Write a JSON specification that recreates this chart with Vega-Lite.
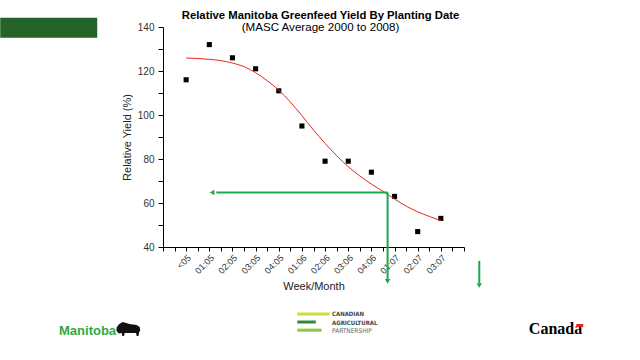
{
  "$schema": "https://vega.github.io/schema/vega-lite/v6.json",
  "width": 301,
  "height": 220,
  "autosize": {"type": "none"},
  "padding": {"left": 163, "top": 27, "right": 176, "bottom": 113},
  "background": "white",
  "config": {"font": "Liberation Sans", "view": {"stroke": null}},
  "title": {
    "text": "Relative Manitoba Greenfeed Yield By Planting Date",
    "subtitle": "(MASC Average 2000 to 2008)",
    "anchor": "middle",
    "frame": "group",
    "dx": 7,
    "offset": -16,
    "font": "Liberation Sans",
    "fontSize": 11.3,
    "fontWeight": "bold",
    "color": "#000000",
    "subtitleFont": "Liberation Sans",
    "subtitleFontSize": 11.6,
    "subtitleColor": "#000000",
    "subtitlePadding": 1
  },
  "encoding": {
    "x": {
      "field": "idx", "type": "quantitative",
      "scale": {"domain": [-1, 12], "nice": false, "zero": false},
      "axis": {
        "title": "Week/Month",
        "values": [-1, -0.5, 0, 0.5, 1, 1.5, 2, 2.5, 3, 3.5, 4, 4.5, 5, 5.5, 6, 6.5, 7, 7.5, 8, 8.5, 9, 9.5, 10, 10.5, 11, 11.5, 12],
        "labelExpr": "(datum.value >= 0 && datum.value <= 11 && datum.value == floor(datum.value)) ? ['<05','01:05','02:05','03:05','04:05','01:06','02:06','03:06','04:06','01:07','02:07','03:07'][datum.value] : ''",
        "labelAngle": -45,
        "labelOverlap": false,
        "labelFlush": false,
        "labelFontSize": 9,
        "labelColor": "#333333",
        "labelPadding": 2,
        "tickSize": 4,
        "tickColor": "#000000",
        "domainColor": "#000000",
        "grid": false,
        "titleFontSize": 11,
        "titleFontWeight": "normal",
        "titleColor": "#222222",
        "titlePadding": 5
      }
    },
    "y": {
      "field": "yield", "type": "quantitative",
      "scale": {"domain": [40, 140], "nice": false, "zero": false},
      "axis": {
        "title": "Relative Yield (%)",
        "values": [40, 50, 60, 70, 80, 90, 100, 110, 120, 130, 140],
        "labelExpr": "datum.value % 20 === 0 ? datum.label : ''",
        "labelOverlap": false,
        "labelFontSize": 10,
        "labelColor": "#333333",
        "labelPadding": 4,
        "tickSize": 5,
        "tickColor": "#000000",
        "domainColor": "#000000",
        "grid": false,
        "titleFontSize": 11,
        "titleFontWeight": "normal",
        "titleColor": "#222222",
        "titlePadding": 5
      }
    }
  },
  "layer": [
    {
      "data": {"values": [{"yield": 60}, {"yield": 80}, {"yield": 100}, {"yield": 120}]},
      "mark": {"type": "rule", "color": "#aed6ae", "strokeWidth": 1},
      "encoding": {
        "x": {"datum": -1, "type": "quantitative"},
        "x2": {"datum": 12}
      }
    },
    {
      "data": {"values": [
        {"week": "<05", "idx": 0, "yield": 116},
        {"week": "01:05", "idx": 1, "yield": 132},
        {"week": "02:05", "idx": 2, "yield": 126},
        {"week": "03:05", "idx": 3, "yield": 121},
        {"week": "04:05", "idx": 4, "yield": 111},
        {"week": "01:06", "idx": 5, "yield": 95},
        {"week": "02:06", "idx": 6, "yield": 79},
        {"week": "03:06", "idx": 7, "yield": 79},
        {"week": "04:06", "idx": 8, "yield": 74},
        {"week": "01:07", "idx": 9, "yield": 63},
        {"week": "02:07", "idx": 10, "yield": 47},
        {"week": "03:07", "idx": 11, "yield": 53}
      ]},
      "mark": {"type": "square", "size": 26, "color": "#000000", "opacity": 1, "filled": true}
    },
    {
      "data": {"values": [
        {"idx": 0, "yield": 125.9}, {"idx": 0.5, "yield": 125.7}, {"idx": 1, "yield": 125.3},
        {"idx": 1.5, "yield": 124.7}, {"idx": 2, "yield": 123.6}, {"idx": 2.5, "yield": 122.0},
        {"idx": 3, "yield": 119.2}, {"idx": 3.5, "yield": 115.6}, {"idx": 4, "yield": 111.3},
        {"idx": 4.5, "yield": 105.9}, {"idx": 5, "yield": 99.7}, {"idx": 5.5, "yield": 93.2},
        {"idx": 6, "yield": 87.1}, {"idx": 6.5, "yield": 81.5}, {"idx": 7, "yield": 76.5},
        {"idx": 7.5, "yield": 72.3}, {"idx": 8, "yield": 68.6}, {"idx": 8.5, "yield": 65.3},
        {"idx": 9, "yield": 61.8}, {"idx": 9.5, "yield": 58.6}, {"idx": 10, "yield": 56.0},
        {"idx": 10.5, "yield": 53.9}, {"idx": 11, "yield": 52.0}
      ]},
      "mark": {"type": "line", "color": "#e8261e", "strokeWidth": 1, "interpolate": "monotone"}
    },
    {
      "data": {"values": [
        {"idx": 1.3, "idx2": 8.7, "yield": 64.8, "yield2": 64.8},
        {"idx": 8.7, "idx2": 8.7, "yield": 64.8, "yield2": 25.5},
        {"idx": 12.66, "idx2": 12.66, "yield": 33.7, "yield2": 23.5}
      ]},
      "mark": {"type": "rule", "color": "#1aa84a", "strokeWidth": 2},
      "encoding": {
        "x2": {"field": "idx2"},
        "y2": {"field": "yield2"}
      }
    },
    {
      "data": {"values": [{"idx": 1.12, "yield": 64.8}]},
      "mark": {"type": "point", "shape": "triangle-left", "filled": true, "size": 30, "color": "#1aa84a", "opacity": 1}
    },
    {
      "data": {"values": [{"idx": 8.7, "yield": 24.4}, {"idx": 12.66, "yield": 22.5}]},
      "mark": {"type": "point", "shape": "triangle-down", "filled": true, "size": 30, "color": "#1aa84a", "opacity": 1}
    },
    {
      "data": {"values": [{"idx": -8.03, "idx2": -3.84, "yield": 144.2, "yield2": 135.1}]},
      "mark": {"type": "rect", "color": "#246428"},
      "encoding": {
        "x2": {"field": "idx2"},
        "y2": {"field": "yield2"}
      }
    },
    {
      "data": {"values": [{"idx": -5.49, "yield": 1.6, "label": "Manitoba"}]},
      "mark": {"type": "text", "align": "left", "baseline": "middle", "font": "Liberation Sans", "fontSize": 13, "fontWeight": "bold", "color": "#2fa843"},
      "encoding": {
        "text": {"field": "label"}
      }
    },
    {
      "data": {"values": [{"idx": -2.5, "yield": 2.6}]},
      "mark": {"type": "point", "shape": "M -1,0.1 L -0.95,-0.2 L -0.75,-0.45 L -0.45,-0.6 L 0.1,-0.45 L 0.7,-0.35 L 0.95,-0.2 L 1,0.1 L 0.9,0.25 L 0.85,0.55 L 0.7,0.55 L 0.65,0.3 L -0.3,0.3 L -0.35,0.55 L -0.5,0.55 L -0.55,0.3 L -0.8,0.35 Z", "filled": true, "size": 576, "color": "#111111", "opacity": 1}
    },
    {
      "data": {"values": [
        {"idx": 4.8, "idx2": 6.2, "yield": 9.6, "stripe": "a"},
        {"idx": 4.8, "idx2": 5.6, "yield": 5.9, "stripe": "b"},
        {"idx": 4.8, "idx2": 5.85, "yield": 2.2, "stripe": "c"}
      ]},
      "mark": {"type": "rule", "strokeWidth": 3},
      "encoding": {
        "x2": {"field": "idx2"},
        "color": {"field": "stripe", "type": "nominal", "scale": {"domain": ["a", "b", "c"], "range": ["#cddc39", "#2e8b3e", "#8cc63f"]}, "legend": null}
      }
    },
    {
      "data": {"values": [
        {"idx": 6.3, "yield": 9.4, "label": "CANADIAN"},
        {"idx": 6.3, "yield": 5.6, "label": "AGRICULTURAL"}
      ]},
      "mark": {"type": "text", "align": "left", "baseline": "middle", "font": "DejaVu Sans Condensed, Liberation Sans Narrow, Liberation Sans, sans-serif", "fontSize": 6, "fontWeight": "bold", "color": "#444444"},
      "encoding": {
        "text": {"field": "label"}
      }
    },
    {
      "data": {"values": [
        {"idx": 6.3, "yield": 1.8, "label": "PARTNERSHIP"}
      ]},
      "mark": {"type": "text", "align": "left", "baseline": "middle", "font": "DejaVu Sans Condensed, Liberation Sans Narrow, Liberation Sans, sans-serif", "fontSize": 6.5, "fontWeight": "normal", "color": "#666666"},
      "encoding": {
        "text": {"field": "label"}
      }
    },
    {
      "data": {"values": [{"idx": 14.8, "yield": 2.6, "label": "Canada"}]},
      "mark": {"type": "text", "align": "left", "baseline": "middle", "font": "Liberation Serif", "fontSize": 16, "fontWeight": "bold", "color": "#000000"},
      "encoding": {
        "text": {"field": "label"}
      }
    },
    {
      "data": {"values": [{"idx": 16.85, "idx2": 17.15, "yield": 5.0, "yield2": 3.6}]},
      "mark": {"type": "rect", "color": "#e4231f"},
      "encoding": {
        "x2": {"field": "idx2"},
        "y2": {"field": "yield2"}
      }
    }
  ]
}
